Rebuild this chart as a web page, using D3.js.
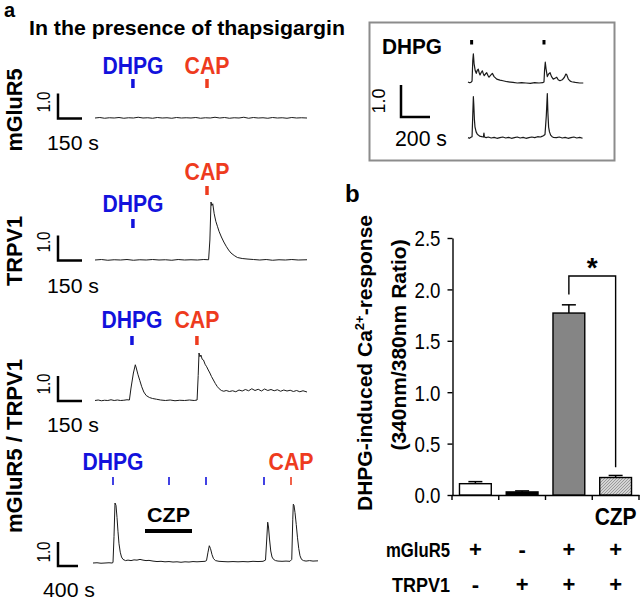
<!DOCTYPE html>
<html><head><meta charset="utf-8">
<script src="https://cdn.jsdelivr.net/npm/d3@7"></script>
<style>body{margin:0;background:#fff} text{font-family:"Liberation Sans",Arial,Helvetica,sans-serif}</style>
</head><body><script>
// ---------------- DATA ----------------
// traces: [time (s), fura-2 ratio 340/380]
const mglur5Trace = [[0,0.80],[30,0.82],[60,0.79],[90,0.81],[120,0.80],[150,0.82],[180,0.79],[210,0.81],[240,0.80],[270,0.83],[300,0.80],[330,0.81],[360,0.79],[390,0.82],[420,0.80],[450,0.81],[480,0.79],[510,0.82],[540,0.80],[570,0.81],[600,0.80],[630,0.82],[660,0.79],[690,0.81],[720,0.80],[750,0.83],[780,0.80],[810,0.82],[840,0.79],[870,0.81],[900,0.80],[930,0.83],[960,0.79],[990,0.82],[1020,0.80],[1050,0.81],[1080,0.79],[1110,0.82],[1140,0.80],[1170,0.81],[1200,0.79],[1230,0.82],[1260,0.80],[1290,0.81],[1325,0.80]];
const trpv1Trace = [[0,0.80],[40,0.82],[80,0.79],[120,0.81],[160,0.80],[200,0.82],[240,0.79],[280,0.81],[320,0.80],[360,0.82],[400,0.80],[440,0.81],[480,0.79],[520,0.82],[560,0.80],[600,0.81],[640,0.80],[680,0.82],[710,0.81],[718,1.6],[725,3.12],[730,2.98],[736,3.05],[745,2.65],[755,2.35],[765,2.15],[775,1.95],[790,1.72],[805,1.52],[820,1.35],[835,1.2],[850,1.08],[870,0.98],[890,0.9],[920,0.86],[950,0.84],[990,0.82],[1030,0.80],[1070,0.82],[1110,0.79],[1150,0.81],[1190,0.80],[1230,0.82],[1270,0.80],[1325,0.81]];
const coexpTrace = [[0,0.80],[20,0.82],[40,0.79],[60,0.81],[80,0.80],[100,0.83],[120,0.80],[140,0.82],[160,0.80],[180,0.81],[200,0.83],[215,0.82],[225,1.3],[240,1.9],[252,2.23],[258,2.1],[268,1.85],[280,1.6],[292,1.35],[305,1.14],[320,1.0],[340,0.92],[360,0.88],[385,0.85],[410,0.82],[440,0.80],[470,0.82],[500,0.79],[530,0.81],[560,0.80],[590,0.82],[620,0.80],[638,0.82],[645,1.8],[650,2.7],[656,2.55],[662,2.62],[670,2.45],[678,2.42],[688,2.25],[698,2.15],[708,2.02],[718,1.9],[728,1.76],[740,1.62],[752,1.48],[764,1.36],[776,1.27],[790,1.2],[805,1.17],[820,1.2],[840,1.16],[860,1.19],[880,1.15],[900,1.22],[920,1.18],[940,1.24],[960,1.19],[980,1.27],[1000,1.2],[1020,1.25],[1040,1.18],[1060,1.26],[1080,1.2],[1100,1.24],[1120,1.19],[1140,1.23],[1160,1.17],[1180,1.22],[1200,1.18],[1220,1.21],[1240,1.16],[1260,1.2],[1280,1.15],[1300,1.19],[1325,1.14]];
const czpTrace = [[0,0.80],[80,0.81],[160,0.79],[240,0.80],[320,0.81],[380,0.80],[400,0.82],[420,1.9],[440,3.3],[460,3.2],[480,2.7],[500,2.1],[520,1.6],[545,1.25],[570,1.05],[600,0.95],[650,0.9],[700,0.92],[760,0.9],[820,0.93],[880,0.92],[940,0.95],[1000,0.92],[1060,0.9],[1120,0.91],[1200,0.88],[1280,0.86],[1360,0.87],[1440,0.85],[1520,0.86],[1600,0.84],[1680,0.85],[1760,0.83],[1840,0.85],[1920,0.84],[2000,0.86],[2080,0.85],[2160,0.86],[2240,0.87],[2270,0.9],[2300,1.25],[2326,1.52],[2350,1.4],[2380,1.15],[2410,0.98],[2450,0.9],[2520,0.87],[2600,0.86],[2700,0.85],[2800,0.86],[2900,0.85],[3000,0.86],[3100,0.85],[3200,0.87],[3300,0.86],[3400,0.87],[3450,0.92],[3475,1.8],[3494,2.5],[3510,2.3],[3530,1.8],[3555,1.3],[3580,1.05],[3610,0.95],[3650,0.9],[3700,0.88],[3780,0.87],[3860,0.88],[3940,0.87],[3975,0.95],[3995,2.6],[4006,3.25],[4020,3.2],[4040,2.9],[4065,2.4],[4090,1.85],[4115,1.4],[4140,1.1],[4170,0.95],[4210,0.9],[4260,0.88],[4330,0.9],[4400,0.88],[4500,0.89]];
const insetTopTrace = [[0,0.53],[10,0.51],[20,0.52],[28,0.56],[33,1.2],[37,1.41],[42,1.1],[50,0.88],[57,0.8],[64,0.9],[71,0.93],[77,0.82],[83,0.75],[90,0.82],[99,0.88],[105,0.8],[112,0.73],[120,0.78],[129,0.82],[137,0.74],[145,0.68],[155,0.74],[168,0.8],[180,0.7],[198,0.62],[220,0.59],[241,0.57],[270,0.54],[310,0.52],[340,0.5],[370,0.51],[400,0.5],[430,0.49],[460,0.51],[490,0.5],[515,0.51],[524,0.53],[528,0.9],[533,1.15],[538,0.95],[547,0.7],[556,0.78],[566,0.82],[576,0.7],[588,0.62],[600,0.65],[612,0.68],[622,0.6],[634,0.57],[650,0.6],[665,0.68],[675,0.78],[681,0.76],[692,0.62],[705,0.56],[715,0.54],[740,0.52],[770,0.5],[795,0.5]];
const insetBottomTrace = [[0,0.52],[10,0.5],[20,0.53],[28,0.55],[32,1.1],[37,1.8],[40,1.55],[44,1.1],[48,0.86],[56,0.7],[64,0.63],[71,0.6],[80,0.57],[95,0.55],[106,0.54],[110,0.66],[113,0.54],[125,0.52],[140,0.54],[160,0.51],[180,0.53],[200,0.5],[220,0.52],[240,0.54],[260,0.51],[280,0.53],[300,0.5],[320,0.52],[340,0.54],[360,0.51],[380,0.53],[400,0.5],[420,0.52],[440,0.54],[460,0.52],[480,0.55],[500,0.54],[510,0.56],[520,0.58],[531,0.62],[540,1.2],[547,1.9],[551,1.3],[556,0.85],[562,0.7],[570,0.6],[580,0.55],[588,0.53],[610,0.52],[630,0.54],[650,0.51],[670,0.53],[690,0.5],[710,0.52],[730,0.54],[750,0.51],[770,0.53],[790,0.5]];
// stimulus times (s)
const panel1Dhpg = [237], panel1Cap = [700];
const panel2Dhpg = [237], panel2Cap = [700];
const panel3Dhpg = [231], panel3Cap = [637];
const panel4Dhpg = [400, 1520, 2260, 3420], panel4Cap = [3960];
const panel4Czp = [1040, 1980];
const insetDhpg = [25, 524];
// bar chart
const barCategories = ["mGluR5", "TRPV1", "mGluR5+TRPV1", "mGluR5+TRPV1+CZP"];
const barValues = [0.11, 0.03, 1.77, 0.17];
const barErrors = [0.02, 0.01, 0.08, 0.02];
const rowMglur5 = ["+", "-", "+", "+"];
const rowTrpv1 = ["-", "+", "+", "+"];
const yTicks = [0, 0.5, 1.0, 1.5, 2.0, 2.5];
const sigBracket = {from: 2, to: 3, leftY: 1.95, topY: 2.13, rightY: 0.27};

// ---------------- DRAW ----------------
const BLUE = "#1212dc", RED = "#ee3b1e", TRACE = "#1a1a1a";
const svg = d3.select("body").append("svg").attr("width", 640).attr("height", 600);

function label(o) {
  const t = svg.append("text").attr("x", o.x).attr("y", o.y).text(o.text)
    .attr("font-size", o.size).attr("font-weight", o.bold ? "bold" : "normal")
    .attr("text-anchor", o.anchor || "start").attr("fill", o.fill || "#000");
  if (o.rotate) t.attr("transform", `rotate(-90 ${o.x} ${o.y})`);
  if (o.width) t.attr("textLength", o.width).attr("lengthAdjust", "spacingAndGlyphs");
  return t;
}

function trace(data, x, y, w) {
  svg.append("path").datum(data)
    .attr("d", d3.line().x(d => x(d[0])).y(d => y(d[1])))
    .attr("fill", "none").attr("stroke", TRACE).attr("stroke-width", w || 1)
    .attr("stroke-linejoin", "round");
}
function ticks(times, x, y1, y2, color, w) {
  times.forEach(t => svg.append("line").attr("x1", x(t)).attr("x2", x(t))
    .attr("y1", y1).attr("y2", y2).attr("stroke", color).attr("stroke-width", w));
}
function scaleBar(x0, y0, dx, dy) {
  svg.append("path").attr("d", `M${x0},${y0 - dy}V${y0}H${x0 + dx}`)
    .attr("fill", "none").attr("stroke", "#000").attr("stroke-width", 2.5);
}

label({x: 4, y: 17, text: "a", size: 20, bold: true});
label({x: 29, y: 35, text: "In the presence of thapsigargin", size: 21, bold: true, width: 316});

// panel 1..3 share the time scale
const xT = d3.scaleLinear().domain([0, 1325]).range([95, 307]);
const panels = [
  {data: mglur5Trace, dh: panel1Dhpg, cap: panel1Cap, base: 118, dhTick: [79, 88], capTick: [79, 88], dhLab: 74, capLab: 74, lab: "mGluR5", labY: 110, labW: 83, sb: 150, oneY: 102},
  {data: trpv1Trace, dh: panel2Dhpg, cap: panel2Cap, base: 260, dhTick: [219, 228], capTick: [186, 195], dhLab: 212, capLab: 180, lab: "TRPV1", labY: 251, labW: 70, sb: 293, oneY: 242},
  {data: coexpTrace, dh: panel3Dhpg, cap: panel3Cap, base: 400.5, dhTick: [336, 345], capTick: [336, 345], dhLab: 328, capLab: 328, lab: null, sb: 432, oneY: 384}
];
panels.forEach(p => {
  const y = d3.scaleLinear().domain([0.8, 1.8]).range([p.base, p.base - 25]);
  trace(p.data, xT, y, 1);
  ticks(p.dh, xT, p.dhTick[0], p.dhTick[1], BLUE, 3.5);
  ticks(p.cap, xT, p.capTick[0], p.capTick[1], RED, 3.5);
  label({x: xT(p.dh[0]), y: p.dhLab, text: "DHPG", size: 23, bold: true, anchor: "middle", fill: BLUE, width: 61});
  label({x: xT(p.cap[0]), y: p.capLab, text: "CAP", size: 23, bold: true, anchor: "middle", fill: RED, width: 45});
  scaleBar(58, p.base + 0.5, xT(150) - xT(0), y(0.8) - y(1.8));
  label({x: 50, y: p.oneY, text: "1.0", size: 18, anchor: "middle", rotate: true, width: 21});
  label({x: 47, y: p.sb, text: "150 s", size: 20, width: 52});
  if (p.lab) label({x: 22, y: p.labY, text: p.lab, size: 22, bold: true, anchor: "middle", rotate: true, width: p.labW});
});
label({x: 22, y: 446, text: "mGluR5 / TRPV1", size: 22, bold: true, anchor: "middle", rotate: true, width: 174});

// panel 4
const x4 = d3.scaleLinear().domain([0, 4500]).range([93, 318]);
const y4 = d3.scaleLinear().domain([0.8, 1.8]).range([563, 539]);
trace(czpTrace, x4, y4, 1);
ticks(panel4Dhpg, x4, 477, 485, BLUE, 1.6);
ticks(panel4Cap, x4, 477, 485, RED, 1.6);
label({x: x4(panel4Dhpg[0]), y: 470, text: "DHPG", size: 23, bold: true, anchor: "middle", fill: BLUE, width: 61});
label({x: x4(panel4Cap[0]), y: 470, text: "CAP", size: 23, bold: true, anchor: "middle", fill: RED, width: 45});
svg.append("rect").attr("x", x4(panel4Czp[0])).attr("y", 529).attr("width", x4(panel4Czp[1]) - x4(panel4Czp[0])).attr("height", 4).attr("fill", "#000");
label({x: (x4(panel4Czp[0]) + x4(panel4Czp[1])) / 2, y: 522, text: "CZP", size: 21, bold: true, anchor: "middle", width: 43});
scaleBar(58, 566, x4(400) - x4(0), y4(0.8) - y4(1.8));
label({x: 50, y: 552, text: "1.0", size: 18, anchor: "middle", rotate: true, width: 21});
label({x: 43, y: 597, text: "400 s", size: 20, width: 52});

// inset
svg.append("rect").attr("x", 369.5).attr("y", 22.5).attr("width", 245).attr("height", 138)
  .attr("fill", "none").attr("stroke", "#8c8c8c").attr("stroke-width", 2);
const xi = d3.scaleLinear().domain([0, 800]).range([468, 584]);
const yiTop = d3.scaleLinear().domain([0.5, 1.5]).range([83, 51]);
const yiBot = d3.scaleLinear().domain([0.5, 1.5]).range([138.3, 106.3]);
trace(insetTopTrace, xi, yiTop, 1.2);
trace(insetBottomTrace, xi, yiBot, 1.2);
ticks(insetDhpg, xi, 40, 44.5, "#000", 3);
label({x: 382, y: 54, text: "DHPG", size: 22, bold: true, width: 60});
scaleBar(401, 117, xi(200) - xi(0), yiTop(0.5) - yiTop(1.5));
label({x: 385, y: 101, text: "1.0", size: 19, anchor: "middle", rotate: true, width: 25});
label({x: 395, y: 146, text: "200 s", size: 22, width: 52});

// ---------------- bar chart b ----------------
label({x: 345, y: 202, text: "b", size: 24, bold: true});
const yB = d3.scaleLinear().domain([0, 2.5]).range([495, 238]);
const xB = d3.scaleBand().domain(barCategories).range([452, 639]).paddingInner(0.32).paddingOuter(0.16);

const yAx = svg.append("g").attr("transform", "translate(452.5,0)")
  .call(d3.axisLeft(yB).tickValues(yTicks).tickFormat(d3.format(".1f")).tickSize(5).tickPadding(7).tickSizeOuter(0));
yAx.selectAll("path,line").attr("stroke", "#000").attr("stroke-width", 1.4);
yAx.selectAll("text").attr("font-size", 22).attr("fill", "#000").attr("dy", "0.36em")
  .attr("textLength", 26).attr("lengthAdjust", "spacingAndGlyphs")
  .attr("font-family", "'Liberation Sans',Arial,sans-serif");

// x axis with ticks at band edges
svg.append("line").attr("x1", 452).attr("x2", 639.5).attr("y1", 495.5).attr("y2", 495.5).attr("stroke", "#000").attr("stroke-width", 1.4);
d3.range(barCategories.length + 1).forEach(i => {
  const xx = Math.min(452 + i * xB.step(), 639);
  svg.append("line").attr("x1", xx).attr("x2", xx).attr("y1", 495).attr("y2", 500).attr("stroke", "#000").attr("stroke-width", 1.4);
});

// hatch pattern
const defs = svg.append("defs");
const pat = defs.append("pattern").attr("id", "hatch").attr("patternUnits", "userSpaceOnUse").attr("width", 3).attr("height", 3);
pat.append("rect").attr("width", 3).attr("height", 3).attr("fill", "#d4d4d4");
pat.append("path").attr("d", "M0,3L3,0M-1,1L1,-1M2,4L4,2").attr("stroke", "#8a8a8a").attr("stroke-width", 0.8);
const fills = ["#ffffff", "#000000", "#858585", "url(#hatch)"];

barCategories.forEach((c, i) => {
  const x0 = xB(c), w = xB.bandwidth(), cx = x0 + w / 2;
  svg.append("line").attr("x1", cx).attr("x2", cx).attr("y1", yB(barValues[i])).attr("y2", yB(barValues[i] + barErrors[i])).attr("stroke", "#000").attr("stroke-width", 1.5);
  svg.append("line").attr("x1", cx - 7).attr("x2", cx + 7).attr("y1", yB(barValues[i] + barErrors[i])).attr("y2", yB(barValues[i] + barErrors[i])).attr("stroke", "#000").attr("stroke-width", 1.5);
  svg.append("rect").attr("x", x0).attr("y", yB(barValues[i])).attr("width", w).attr("height", yB(0) - yB(barValues[i]))
    .attr("fill", fills[i]).attr("stroke", "#000").attr("stroke-width", 1.4);
  label({x: cx, y: 557, text: rowMglur5[i], size: 22, bold: true, anchor: "middle"});
  label({x: cx, y: 592, text: rowTrpv1[i], size: 22, bold: true, anchor: "middle"});
});
label({x: xB(barCategories[3]) + xB.bandwidth() / 2, y: 525, text: "CZP", size: 23, bold: true, anchor: "middle", width: 42});
label({x: 450, y: 557, text: "mGluR5", size: 21, bold: true, anchor: "end", width: 64});
label({x: 450, y: 592, text: "TRPV1", size: 21, bold: true, anchor: "end", width: 58});

// significance bracket
const bL = xB(barCategories[sigBracket.from]) + xB.bandwidth() / 2;
const bR = xB(barCategories[sigBracket.to]) + xB.bandwidth() / 2;
svg.append("path").attr("d", `M${bL},${yB(sigBracket.leftY)}V${yB(sigBracket.topY)}H${bR}V${yB(sigBracket.rightY)}`)
  .attr("fill", "none").attr("stroke", "#000").attr("stroke-width", 1.4);
label({x: (bL + bR) / 2, y: yB(sigBracket.topY) + 1, text: "*", size: 28, bold: true, anchor: "middle"});

// y title
const t1 = svg.append("text").attr("transform", "translate(372,363) rotate(-90)").attr("text-anchor", "middle")
  .attr("font-size", 21).attr("font-weight", "bold");
t1.append("tspan").text("DHPG-induced Ca");
t1.append("tspan").text("2+").attr("font-size", 13).attr("dy", -8);
t1.append("tspan").text("-response").attr("dy", 8);
svg.append("text").attr("transform", "translate(406,345) rotate(-90)").attr("text-anchor", "middle")
  .attr("font-size", 21).attr("font-weight", "bold").text("(340nm/380nm Ratio)");
</script></body></html>
